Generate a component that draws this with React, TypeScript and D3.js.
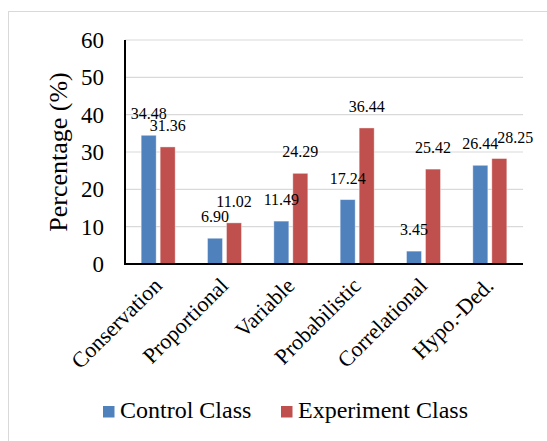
import * as d3 from 'd3'

const categories = ['Conservation', 'Proportional', 'Variable', 'Probabilistic', 'Correlational', 'Hypo.-Ded.']
const seriesNames = ['Control Class', 'Experiment Class']
const controlValues = [34.48, 6.9, 11.49, 17.24, 3.45, 26.44]
const experimentValues = [31.36, 11.02, 24.29, 36.44, 25.42, 28.25]
const yTicks = [0, 10, 20, 30, 40, 50, 60]

const colors = ['#4f81bd', '#c0504d']
const FONT = 'Liberation Serif'

export default function App() {
  const W = 547, H = 441
  const left = 125, right = 523, top = 40, bottom = 264

  const y = d3.scaleLinear().domain([0, 60]).range([bottom, top])
  const x0 = d3.scaleBand<string>().domain(categories).range([left, right])
  const x1 = d3.scaleBand<string>().domain(seriesNames).range([-17, 17]).paddingInner(0.21)

  const series = [controlValues, experimentValues]

  return (
    <svg width={W} height={H} style={{ position: 'absolute', left: 0, top: 0, background: '#fff' }} fontFamily={FONT}>
      <rect x={8.5} y={11.5} width={700} height={600} fill="#fff" stroke="#d9d9d9" strokeWidth={1} />

      {yTicks.filter(t => t > 0).map(t => (
        <line key={t} x1={left} x2={right} y1={y(t)} y2={y(t)} stroke="#d9d9d9" strokeWidth={1.2} />
      ))}

      {yTicks.map(t => (
        <text key={t} transform={`translate(104,${y(t)})`} dy="0.35em" textAnchor="end" fontSize={23} fill="#000" fontFamily={FONT}>{t}</text>
      ))}

      <text transform={`translate(67,152) rotate(-90)`} textAnchor="middle" fontSize={26} fill="#000" fontFamily={FONT}>Percentage (%)</text>

      {categories.map((c, i) => (
        <g key={c}>
          {series.map((vals, s) => {
            const bx = x0(c)! + x0.bandwidth() / 2 + x1(seriesNames[s])!
            return (
              <rect key={s} x={bx} y={y(vals[i])} width={x1.bandwidth()} height={bottom - y(vals[i])}
                fill={colors[s]} stroke="#fff" strokeOpacity={0.5} strokeWidth={0.8} />
            )
          })}
        </g>
      ))}

      {categories.map((c, i) => (
        <g key={c + 'l'}>
          {series.map((vals, s) => {
            const cx = x0(c)! + x0.bandwidth() / 2 + x1(seriesNames[s])! + x1.bandwidth() / 2
            // last red label was dragged right in the original so it clears its neighbour
            const nudge = i === categories.length - 1 && s === 1 ? 16 : 0
            return (
              <text key={s} transform={`translate(${cx + nudge},${y(vals[i]) - 16})`} textAnchor="middle" fontSize={16} fill="#000" fontFamily={FONT}>
                {vals[i].toFixed(2)}
              </text>
            )
          })}
        </g>
      ))}

      <line x1={left} x2={left} y1={top} y2={bottom} stroke="#000" strokeWidth={2} />
      <line x1={left - 1} x2={right} y1={bottom} y2={bottom} stroke="#000" strokeWidth={2} />

      {categories.map(c => {
        const cx = x0(c)! + x0.bandwidth() / 2
        return (
          <text key={c} transform={`translate(${cx + 5},${287}) rotate(-45)`} textAnchor="end" fontSize={22} fill="#000" fontFamily={FONT}>{c}</text>
        )
      })}

      {seriesNames.map((n, s) => {
        const lx = s === 0 ? 103 : 281
        return (
          <g key={n}>
            <rect x={lx} y={406} width={11.5} height={11.5} fill={colors[s]} />
            <text transform={`translate(${lx + 17},418)`} fontSize={24} fill="#000" fontFamily={FONT}>{n}</text>
          </g>
        )
      })}
    </svg>
  )
}
